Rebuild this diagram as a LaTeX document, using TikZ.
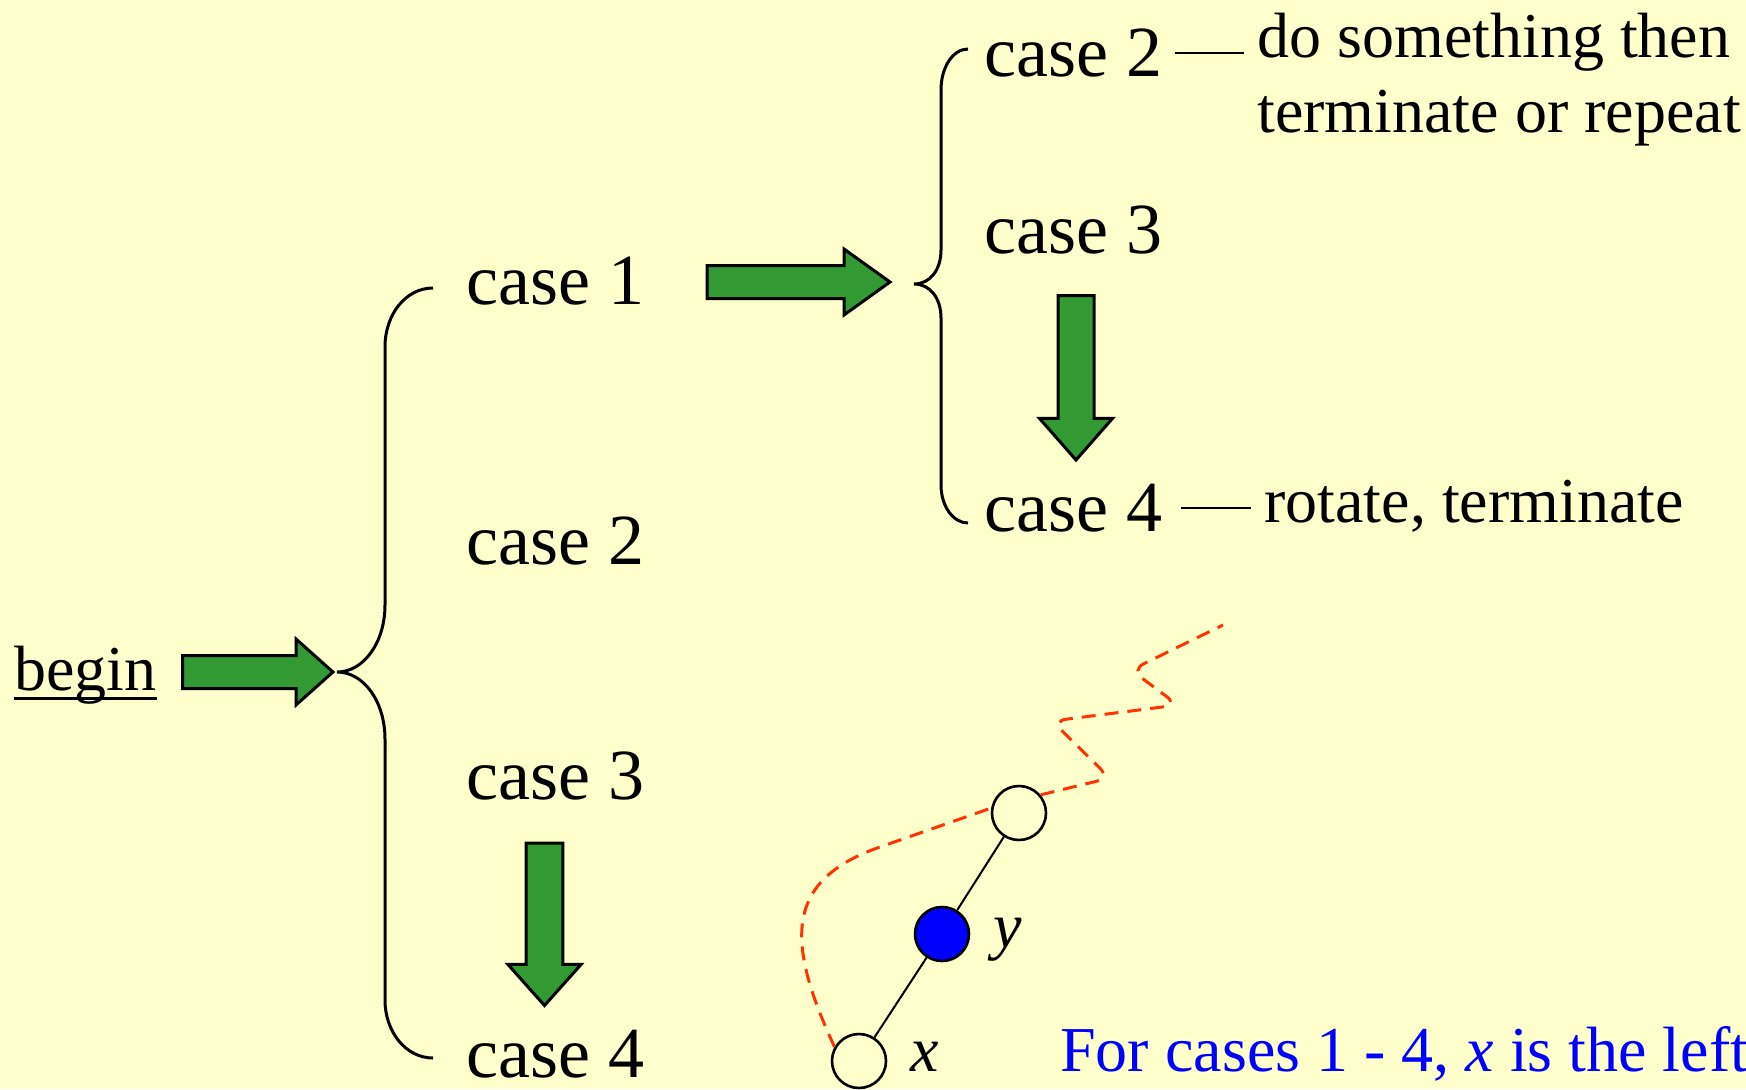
\documentclass[tikz,border=0pt]{standalone}
\usepackage{fontspec}
\setmainfont{Liberation Serif}
\usetikzlibrary{calc}
\definecolor{bgyellow}{RGB}{255,255,204}
\definecolor{arrowgreen}{RGB}{51,153,51}
\definecolor{pathred}{RGB}{255,51,0}

\begin{document}
\begin{tikzpicture}[x=0.5pt, y=-0.5pt,
  casetxt/.style={anchor=base west, inner sep=0pt, font=\fontsize{36}{43}\selectfont},
  notetxt/.style={inner sep=0pt, font=\fontsize{32}{37.3}\selectfont},
  curly/.style={line width=1.5pt},
  dashline/.style={line width=1pt},
  fatarrow/.style={draw, line width=1.5pt, fill=arrowgreen, line join=miter},
  vertex/.style={circle, draw, line width=1.3pt, minimum size=27pt, inner sep=0pt},
  lbl/.style={anchor=base west, inner sep=0pt, font=\fontsize{32}{37}\selectfont\itshape},
  redpath/.style={draw=pathred, line width=1.5pt, dash pattern=on 7pt off 4.5pt}]

\fill[bgyellow] (0,0) rectangle (1746,1089);
\useasboundingbox (0,0) rectangle (1746,1089);

% left column
\node[notetxt, anchor=base west] (begin) at (14,690) {begin};
\draw[line width=1.5pt] ([yshift=-4pt]begin.base west) -- ([yshift=-4pt]begin.base east);
\node[casetxt] (lc1) at (466,304) {case 1};
\node[casetxt] (lc2) at (466,564) {case 2};
\node[casetxt] (lc3) at (466,799) {case 3};
\node[casetxt] (lc4) at (466,1077) {case 4};

% right column
\node[casetxt] (rc2) at (984,76) {case 2};
\node[casetxt] (rc3) at (984,253) {case 3};
\node[casetxt] (rc4) at (984,531) {case 4};
\node[notetxt, anchor=north west, align=left] (note1) at (1257,13) {do something then\\terminate or repeat};
\node[notetxt, anchor=base west] (note2) at (1264,522) {rotate, terminate};
\draw[dashline, shorten <=6pt, shorten >=6.5pt] (rc2.east) -- (rc2.east -| note1.west);
\draw[dashline, shorten <=9pt, shorten >=6.5pt] (rc4.east) -- (rc4.east -| note2.west);

% braces
\draw[curly] (433,288) .. controls (406,288) and (385,314) .. (385,347) -- (385,605)
  .. controls (385,642) and (364,672) .. (337,672) .. controls (364,672) and (385,702) .. (385,739)
  -- (385,1000) .. controls (385,1032) and (406,1058) .. (433,1058);
\draw[curly] (968,49) .. controls (953,49) and (941,67) .. (941,90) -- (941,250)
  .. controls (941,270) and (930,284) .. (914,284) .. controls (930,284) and (941,298) .. (941,318)
  -- (941,485) .. controls (941,506) and (953,523) .. (968,523);

% green arrows
\draw[fatarrow] (333,672) -- ++(-37,-33) -- ++(0,16.5) -- ++(-113.5,0) -- ++(0,33) -- ++(113.5,0) -- ++(0,16.5) -- cycle;
\draw[fatarrow] (890,282) -- ++(-46,-33) -- ++(0,16.5) -- ++(-137,0) -- ++(0,33) -- ++(137,0) -- ++(0,16.5) -- cycle;
\draw[fatarrow] (1076,460) -- ++(-36.6,-41.7) -- ++(18.6,0) -- ++(0,-122.6) -- ++(36,0) -- ++(0,122.6) -- ++(18.6,0) -- cycle;
\draw[fatarrow] (544.5,1005.5) -- ++(-36.7,-41.2) -- ++(18.4,0) -- ++(0,-121.3) -- ++(36.6,0) -- ++(0,121.3) -- ++(18.4,0) -- cycle;

% the little tree
\node[vertex, fill=bgyellow] (ct) at (1019,813) {};
\node[vertex, fill=blue] (cy) at (942,934) {};
\node[vertex, fill=bgyellow] (cx) at (859,1061) {};
\draw[line width=1pt] (cx) -- (cy) -- (ct);
\node[lbl] (ylab) at (993,947) {y};
\node[lbl] (xlab) at (910,1071) {x};
\draw[redpath] (cx.150) .. controls (785,940) and (785,880) .. (880,847) -- (ct.170);
\draw[redpath, rounded corners=7pt] (ct.40) -- (1110,778) -- (1052,721) -- (1178,705) -- (1131,670) -- (1223,625);

\node[notetxt, anchor=base west, text=blue] (caption) at (1060,1071) {For cases 1 - 4, \textit{x} is the left};
\end{tikzpicture}
\end{document}
